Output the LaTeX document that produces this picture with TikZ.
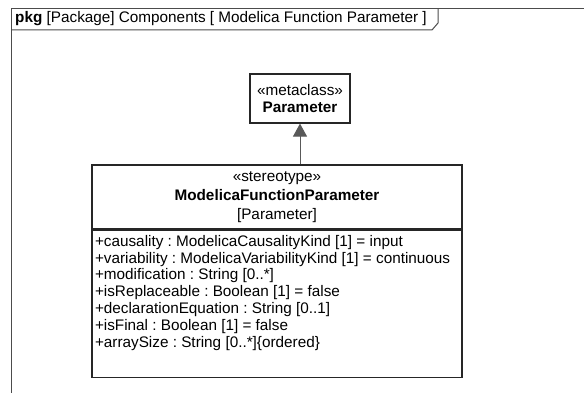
\documentclass[tikz,border=0pt]{standalone}
\usepackage{fontspec}
\setmainfont{Liberation Sans}
\usetikzlibrary{positioning,arrows.meta}
\frenchspacing

\tikzset{
  umlbox/.style={draw=black!85, line width=1.2pt, fill=white, inner sep=2pt},
  umltext/.style={font=\fontsize{15.3}{16.8}\selectfont},
  genline/.style={draw=black!65, line width=1pt, -{Triangle[length=13pt,width=14pt]}},
}

\begin{document}
\begin{tikzpicture}[x=1pt,y=-1pt]
  \useasboundingbox (0,0) rectangle (584,393);
  % package frame and its tab
  \draw[black!70, line width=1pt] (584,9) -- (11,9) -- (11,393);
  \draw[black!70, line width=1pt] (11,30) -- (432,30) -- (438,23) -- (438,9);
  \node[umltext, anchor=west, inner sep=0pt] (title) at (15,19)
    {\textbf{pkg} [Package] Components [ Modelica Function Parameter ]};

  % metaclass
  \node[umlbox, umltext, minimum width=100pt, minimum height=49pt, align=center]
    (param) at (300,98.5) {«metaclass»\\[1pt]\textbf{Parameter}};

  % stereotype
  \node[umlbox, umltext, minimum width=370pt, minimum height=64pt, align=center]
    (fparam) at (277,197) {«stereotype»\\[3pt]\textbf{ModelicaFunctionParameter}\\[2pt][Parameter]};
  \node[umlbox, umltext, minimum width=370pt, minimum height=147pt,
    anchor=north, below=0pt of fparam.south] (fattrs)
    {\parbox[c][141pt][t]{364pt}{\raggedright\vspace*{2pt}
     +causality : ModelicaCausalityKind [1] = input\\
     +variability : ModelicaVariabilityKind [1] = continuous\\
     +modification : String [0..*]\\
     +isReplaceable : Boolean [1] = false\\
     +declarationEquation : String [0..1]\\
     +isFinal : Boolean [1] = false\\
     +arraySize : String [0..*]\{ordered\}}};

  \draw[genline] (param.south |- fparam.north) -- (param.south);
\end{tikzpicture}
\end{document}
